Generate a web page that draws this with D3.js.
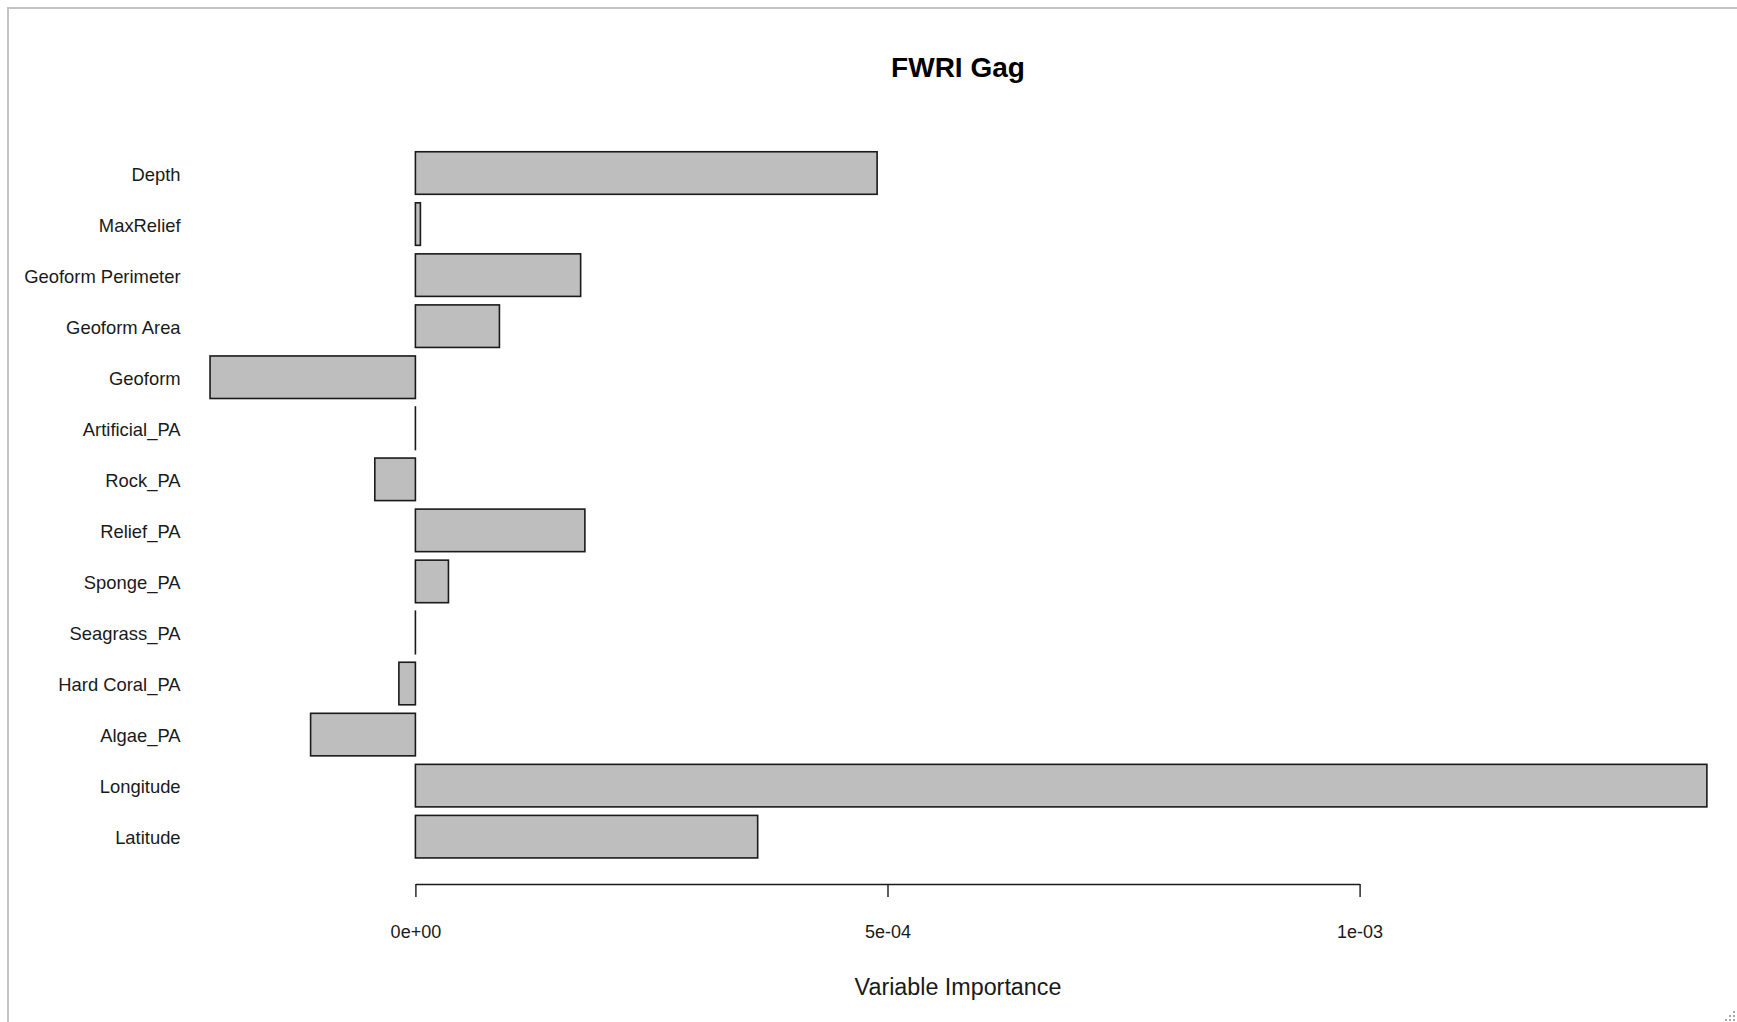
<!DOCTYPE html>
<html>
<head>
<meta charset="utf-8">
<script src="https://cdn.jsdelivr.net/npm/d3@7"></script>
<style>
  body { margin: 0; background: #fff; }
  svg { display: block; font-family: "Liberation Sans", Arial, sans-serif; }
</style>
</head>
<body>
<svg id="canvas" width="1737" height="1022"></svg>
<script>
// variables, top to bottom as in the plot
let variables = ["Depth", "MaxRelief", "Geoform Perimeter", "Geoform Area", "Geoform",
  "Artificial_PA", "Rock_PA", "Relief_PA", "Sponge_PA", "Seagrass_PA",
  "Hard Coral_PA", "Algae_PA", "Longitude", "Latitude"]

let importance = [4.89e-4, 5.3e-6, 1.75e-4, 8.9e-5, -2.175e-4,
  0, -4.3e-5, 1.795e-4, 3.5e-5, 0,
  -1.75e-5, -1.11e-4, 1.3678e-3, 3.625e-4]

let tickValues = [0, 5e-4, 1e-3]
let tickLabels = ["0e+00", "5e-04", "1e-03"]

let svg = d3.select('#canvas')

// window frame (left + top edge) and resize grip
svg.append('path')
   .attr('d', 'M8,1022 L8,8 L1737,8')
   .attr('fill', 'none')
   .attr('stroke', '#c4c4c4')
   .attr('stroke-width', 2)

let grip = [[1733, 1019], [1729, 1019], [1725, 1019], [1733, 1015], [1729, 1015], [1733, 1011]]
svg.selectAll('.grip')
   .data(grip)
   .enter()
   .append('rect')
   .attr('class', 'grip')
   .attr('x', d => d[0])
   .attr('y', d => d[1])
   .attr('width', 2)
   .attr('height', 2)
   .attr('fill', '#a8a8a8')

let xScale = d3.scaleLinear()
               .domain([0, 1e-3])
               .range([415.4, 1359.6])

let step = 51.05
let yScale = d3.scaleBand()
               .domain(variables)
               .range([147.5, 147.5 + step * variables.length])
               .paddingInner(0.2 / 1.2)
               .paddingOuter(0.1 / 1.2)

let rows = variables.map((name, i) => ({name: name, value: importance[i]}))

svg.selectAll('.bar')
   .data(rows)
   .enter()
   .append('rect')
   .attr('class', 'bar')
   .attr('x', d => Math.min(xScale(0), xScale(d.value)))
   .attr('y', d => yScale(d.name))
   .attr('width', d => Math.max(Math.abs(xScale(d.value) - xScale(0)), 0.01))
   .attr('height', yScale.bandwidth())
   .attr('fill', '#bebebe')
   .attr('stroke', '#1a1a1a')
   .attr('stroke-width', 1.6)

// category labels
svg.selectAll('.ylab')
   .data(rows)
   .enter()
   .append('text')
   .attr('class', 'ylab')
   .attr('x', 180.6)
   .attr('y', d => yScale(d.name) + yScale.bandwidth() / 2 + 7.5)
   .attr('text-anchor', 'end')
   .attr('font-size', 18.4)
   .attr('fill', '#1a1a1a')
   .text(d => d.name)

// x axis
let xAxis = d3.axisBottom(xScale)
              .tickValues(tickValues)
              .tickFormat((d, i) => tickLabels[i])
              .tickSize(13)
              .tickSizeOuter(0)
              .tickPadding(28.3)

let axisG = svg.append('g')
               .attr('transform', 'translate(0,884)')
               .call(xAxis)
axisG.select('.domain').attr('stroke', '#1a1a1a').attr('stroke-width', 1.4)
axisG.selectAll('.tick line').attr('stroke', '#1a1a1a').attr('stroke-width', 1.4)
axisG.selectAll('.tick text')
     .attr('font-size', 18)
     .attr('font-family', '"Liberation Sans", Arial, sans-serif')
     .attr('fill', '#1a1a1a')

svg.append('text')
   .attr('x', 958)
   .attr('y', 77)
   .attr('text-anchor', 'middle')
   .attr('font-size', 28)
   .attr('font-weight', 'bold')
   .attr('fill', '#000')
   .text('FWRI Gag')

svg.append('text')
   .attr('x', 958)
   .attr('y', 995)
   .attr('text-anchor', 'middle')
   .attr('font-size', 23.3)
   .attr('fill', '#1a1a1a')
   .text('Variable Importance')
</script>
</body>
</html>
